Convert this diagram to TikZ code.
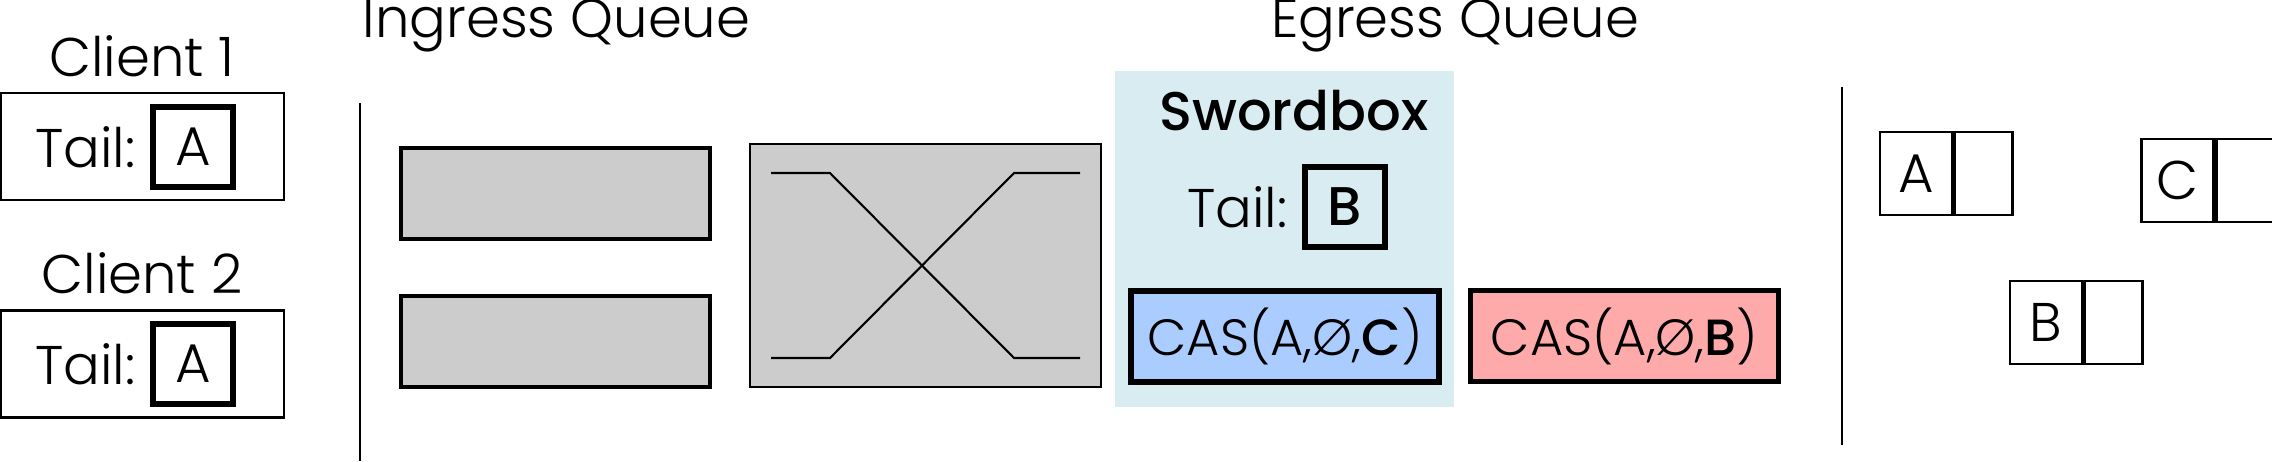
\documentclass[tikz,border=0pt]{standalone}
\usepackage{fontspec}
\setmainfont{Poppins Light}[BoldFont={Poppins Medium}]
\definecolor{lightblue}{RGB}{216,236,242}
\definecolor{casblue}{RGB}{170,204,255}
\definecolor{caspink}{RGB}{255,170,170}
\definecolor{switchgray}{RGB}{204,204,204}
\usetikzlibrary{positioning}
\newcommand{\labelfont}{\fontsize{15.5pt}{18pt}\selectfont}
\newcommand{\casfont}{\fontsize{14.5pt}{17pt}\selectfont}

\tikzset{
    clientbox/.style={draw, line width=0.8pt, minimum width=2.83cm, minimum height=1.07cm},
    tailbox/.style={draw, line width=1.6pt, minimum width=0.8cm, minimum height=0.8cm,
                    inner sep=0pt, font=\labelfont},
    tailtext/.style={inner sep=0pt, font=\labelfont},
    queueslot/.style={draw, line width=1.4pt, fill=switchgray, minimum width=3.09cm, minimum height=0.91cm},
    casbox/.style={draw, line width=1.6pt, minimum width=3.08cm, minimum height=0.91cm,
                   inner sep=0pt, font=\casfont},
    cellkey/.style={draw, line width=0.8pt, minimum width=0.72cm, minimum height=0.83cm,
                    inner sep=0pt, font=\labelfont},
    cellptr/.style={draw, line width=0.8pt, minimum width=0.58cm, minimum height=0.83cm, inner sep=0pt}
}

\begin{document}
\begin{tikzpicture}
    \useasboundingbox (0,0) rectangle (22.72,-4.61);

    % clients
    \node[font=\labelfont, anchor=base] (client1label) at (1.42,-0.76) {Client 1};
    \node[clientbox] (client1) at (1.425,-1.465) {};
    \node[tailbox] (client1tail) at (1.93,-1.47) {A};
    \node[tailtext, left=0.14cm of client1tail] (client1tailtext) {Tail:};

    \node[font=\labelfont, anchor=base] (client2label) at (1.42,-2.93) {Client 2};
    \node[clientbox] (client2) at (1.425,-3.64) {};
    \node[tailbox] (client2tail) at (1.93,-3.64) {A};
    \node[tailtext, left=0.14cm of client2tail] (client2tailtext) {Tail:};

    \draw[line width=0.8pt] (3.60,-1.03) -- (3.60,-4.61);

    % ingress queue
    \node[font=\labelfont, anchor=base] (ingresslabel) at (5.565,-0.37) {Ingress Queue};
    \node[queueslot] (slot1) at (5.555,-1.935) {};
    \node[queueslot] (slot2) at (5.555,-3.415) {};

    % switch
    \node[draw, line width=0.8pt, fill=switchgray, minimum width=3.51cm, minimum height=2.43cm] (switch) at (9.255,-2.655) {};
    \draw[line width=0.6pt] (7.71,-1.73) -- (8.30,-1.73) -- (10.14,-3.58) -- (10.80,-3.58);
    \draw[line width=0.6pt] (7.71,-3.58) -- (8.30,-3.58) -- (10.14,-1.73) -- (10.80,-1.73);

    % egress queue
    \node[font=\labelfont, anchor=base] (egresslabel) at (14.55,-0.37) {Egress Queue};
    \node[fill=lightblue, minimum width=3.39cm, minimum height=3.36cm] (swordbox) at (12.845,-2.39) {};
    \node[font=\labelfont\bfseries, anchor=base] (swordlabel) at (12.94,-1.30) {Swordbox};
    \node[tailbox] (swordtail) at (13.45,-2.07) {\bfseries B};
    \node[tailtext, left=0.14cm of swordtail] (swordtailtext) {Tail:};
    \node[casbox, fill=casblue] (cas1) at (12.85,-3.365) {CAS(A,Ø,\textbf{C})};
    \node[casbox, fill=caspink] (cas2) at (16.245,-3.36) {CAS(A,Ø,\textbf{B})};

    \draw[line width=0.8pt] (18.42,-0.87) -- (18.42,-4.45);

    % memory cells
    \node[cellkey] (cellA) at (19.16,-1.735) {A};
    \node[cellptr, right=0pt of cellA] (cellAptr) {};
    \node[cellkey] (cellB) at (20.46,-3.225) {B};
    \node[cellptr, right=0pt of cellB] (cellBptr) {};
    \node[cellkey] (cellC) at (21.775,-1.805) {C};
    \node[cellptr, right=0pt of cellC] (cellCptr) {};
\end{tikzpicture}
\end{document}
